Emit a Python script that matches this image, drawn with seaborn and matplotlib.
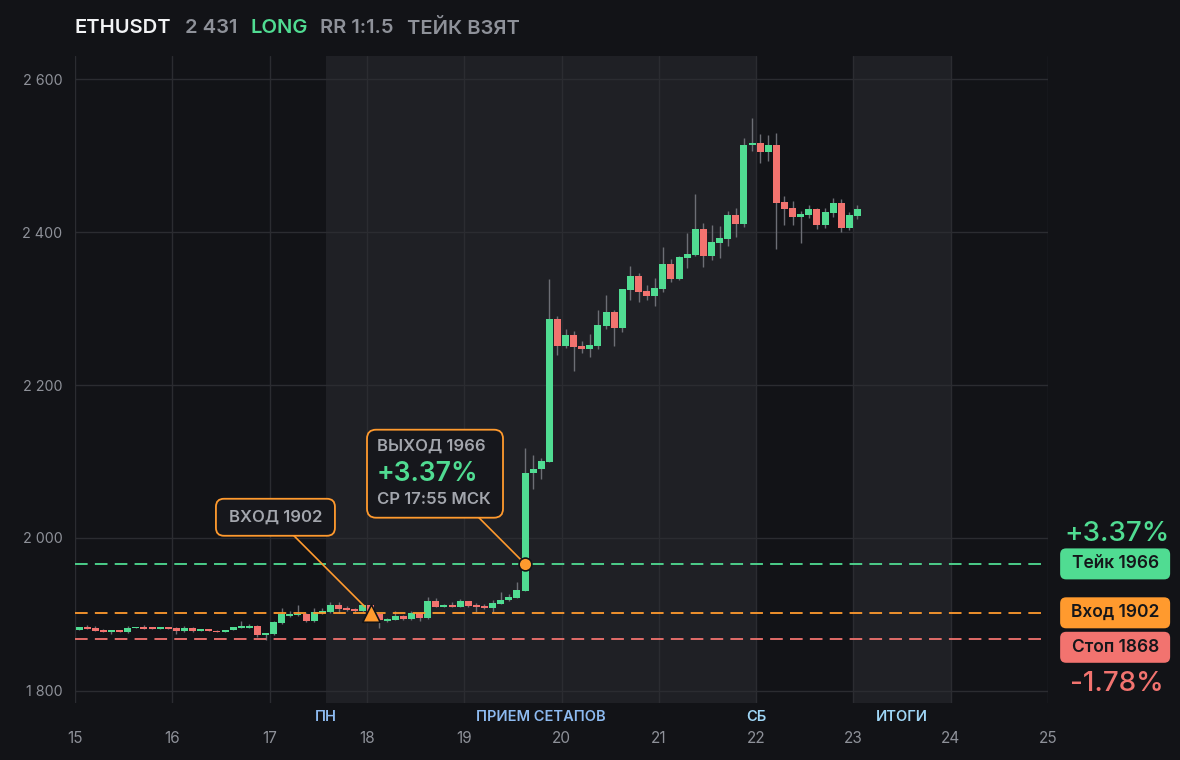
import numpy as np
import pandas as pd
import matplotlib
matplotlib.use("Agg")
import matplotlib.pyplot as plt
import seaborn as sns
from matplotlib.patches import FancyBboxPatch
from matplotlib.transforms import IdentityTransform, blended_transform_factory

# ETHUSDT 2h candles, first candle starts on day 15 at 00:00
opens = [1880.0, 1883.4, 1882.0, 1879.4, 1877.2, 1879.4, 1876.8, 1882.1, 1883.4, 1883.4,
         1881.2, 1883.4, 1882.1, 1878.1, 1882.1, 1878.1, 1880.5, 1878.1, 1876.8, 1879.4,
         1882.1, 1882.1, 1884.7, 1872.8, 1874.1, 1888.7, 1897.7, 1899.0, 1900.4, 1891.2,
         1901.7, 1903.0, 1912.2, 1908.2, 1907.0, 1904.3, 1912.2, 1900.4, 1891.2, 1892.4,
         1897.7, 1893.7, 1901.7, 1895.0, 1917.4, 1909.5, 1912.2, 1909.5, 1917.4, 1912.2,
         1910.8, 1908.2, 1913.5, 1918.7, 1921.4, 1930.5, 2085.0, 2090.0, 2099.0, 2286.4,
         2251.0, 2265.5, 2251.0, 2247.0, 2251.0, 2277.0, 2295.5, 2274.6, 2324.0, 2342.6,
         2323.0, 2316.4, 2325.6, 2358.3, 2338.7, 2366.0, 2370.0, 2404.0, 2368.8, 2385.8,
         2391.0, 2422.4, 2410.6, 2514.0, 2516.6, 2504.8, 2514.0, 2439.4, 2431.6, 2420.0,
         2422.0, 2430.0, 2409.0, 2425.0, 2438.0, 2405.3, 2421.0]
closes = [1883.4, 1881.2, 1878.5, 1877.2, 1879.4, 1876.8, 1882.1, 1883.4, 1881.2, 1881.2,
          1883.4, 1881.2, 1878.1, 1882.1, 1878.1, 1880.5, 1878.1, 1876.8, 1879.0, 1883.4,
          1884.7, 1884.7, 1872.8, 1875.5, 1890.0, 1900.4, 1900.4, 1900.4, 1891.2, 1903.0,
          1904.3, 1912.2, 1907.0, 1905.6, 1904.3, 1912.2, 1903.0, 1892.4, 1893.7, 1897.7,
          1893.7, 1901.7, 1895.0, 1917.4, 1909.5, 1912.2, 1909.5, 1917.4, 1910.8, 1909.5,
          1908.2, 1914.4, 1918.7, 1922.6, 1931.8, 2085.0, 2090.0, 2100.6, 2286.4, 2251.0,
          2265.5, 2249.7, 2247.0, 2252.0, 2278.5, 2295.5, 2274.6, 2325.6, 2342.6, 2321.7,
          2316.4, 2327.0, 2358.3, 2338.7, 2367.5, 2371.0, 2404.0, 2368.8, 2387.0, 2392.0,
          2422.4, 2410.6, 2514.0, 2516.6, 2504.8, 2514.0, 2438.0, 2430.0, 2419.8, 2423.7,
          2430.0, 2409.0, 2426.0, 2438.0, 2405.3, 2422.4, 2430.0]
highs = [1884.0, 1885.7, 1884.5, 1881.0, 1880.0, 1880.0, 1884.7, 1884.0, 1886.0, 1884.0,
         1884.0, 1884.0, 1883.0, 1884.7, 1884.0, 1881.0, 1881.0, 1879.0, 1880.0, 1884.0,
         1891.0, 1887.0, 1885.6, 1876.0, 1891.0, 1908.0, 1904.3, 1912.0, 1902.0, 1908.0,
         1908.0, 1916.0, 1916.0, 1911.0, 1908.5, 1914.0, 1913.0, 1901.0, 1895.0, 1904.3,
         1898.5, 1904.3, 1902.5, 1922.6, 1921.4, 1913.0, 1916.0, 1920.0, 1918.0, 1914.4,
         1913.0, 1918.7, 1929.0, 1926.6, 1942.0, 2117.6, 2108.0, 2104.5, 2338.7, 2290.0,
         2273.0, 2270.6, 2258.0, 2266.7, 2298.0, 2317.8, 2298.0, 2326.0, 2356.0, 2346.5,
         2331.0, 2340.0, 2381.0, 2365.0, 2369.0, 2398.9, 2450.0, 2412.0, 2410.0, 2408.0,
         2427.7, 2431.6, 2523.0, 2549.0, 2528.0, 2527.0, 2529.7, 2447.0, 2441.0, 2427.7,
         2436.0, 2431.0, 2431.0, 2444.6, 2443.0, 2427.0, 2436.0]
lows = [1879.5, 1880.8, 1878.0, 1876.8, 1874.5, 1876.5, 1876.0, 1881.5, 1881.0, 1881.0,
        1881.0, 1880.8, 1874.1, 1877.5, 1877.5, 1877.8, 1877.8, 1876.5, 1876.5, 1879.0,
        1882.0, 1881.5, 1870.0, 1866.9, 1873.5, 1887.5, 1897.0, 1898.0, 1890.0, 1890.5,
        1900.0, 1902.0, 1901.7, 1905.0, 1903.5, 1903.0, 1900.0, 1882.0, 1890.5, 1892.0,
        1892.5, 1893.0, 1891.2, 1894.5, 1909.0, 1909.0, 1909.0, 1909.0, 1910.0, 1902.5,
        1907.5, 1903.5, 1913.0, 1918.0, 1921.0, 1930.0, 2064.0, 2077.0, 2099.0, 2239.0,
        2248.0, 2218.0, 2242.0, 2236.6, 2247.0, 2273.0, 2251.0, 2269.0, 2311.0, 2308.6,
        2311.0, 2303.0, 2322.0, 2335.0, 2337.0, 2353.0, 2368.8, 2354.0, 2363.0, 2366.0,
        2382.0, 2393.6, 2406.7, 2506.0, 2490.5, 2493.0, 2378.0, 2409.0, 2409.0, 2385.8,
        2419.0, 2404.0, 2406.0, 2419.8, 2400.0, 2402.6, 2417.0]

start_day = 15
candle_hours = 2

entry_price = 1902
take_price = 1966
stop_price = 1868
entry_bar = 36
exit_bar = 55

day_ticks = list(range(15, 26))
price_ticks = [1800, 2000, 2200, 2400, 2600]
bands = [(17.583, 22.0), (23.0, 24.0)]
band_labels = ["ПН", "ПРИЕМ СЕТАПОВ", "СБ", "ИТОГИ"]
band_label_x = [17.583, 19.79, 22.0, 23.5]

title_parts = ["ETHUSDT", "2 431", "LONG", "RR 1:1.5", "ТЕЙК ВЗЯТ"]

# colours
BG = "#121317"
BAND = "#1f2025"
GRID = "#2b2c31"
GREEN = "#50dc92"
RED = "#f2736f"
ORANGE = "#ff9a2e"
GREY = "#8e9199"
TXT = "#a3a6ad"
WICK = "#6c6e75"
BOXBG = "#16171c"

df = pd.DataFrame({"open": opens, "high": highs, "low": lows, "close": closes})
df["t"] = start_day + (np.arange(len(df)) + 0.5) * candle_hours / 24
df["up"] = df["close"] >= df["open"]
df["color"] = np.where(df["up"], GREEN, RED)
body = (df["close"] - df["open"]).abs().clip(lower=1.6)
bottom = df[["open", "close"]].min(axis=1)

sns.set_theme(style="dark", rc={"figure.facecolor": BG, "axes.facecolor": BG,
                                "savefig.facecolor": BG, "axes.edgecolor": BG})
plt.rcParams["font.family"] = ["Inter", "DejaVu Sans"]

fig = plt.figure(figsize=(11.8, 7.6), dpi=100)
ax = fig.add_axes([75 / 1180, 57 / 760, 973 / 1180, 647 / 760])
ax.set_xlim(15, 25)
ax.set_ylim(1784, 2630.5)

for a, b in bands:
    ax.axvspan(a, b, color=BAND, lw=0, zorder=0)

ax.set_xticks(day_ticks)
ax.set_xticklabels([str(d) for d in day_ticks])
ax.set_yticks(price_ticks)
ax.set_yticklabels([f"{p:,}".replace(",", " ") for p in price_ticks])
ax.grid(True, color=GRID, lw=1, zorder=0.5)
ax.set_axisbelow(True)
for s in ax.spines.values():
    s.set_visible(False)
ax.tick_params(axis="x", length=0, colors=GREY, labelsize=11, pad=20)
ax.tick_params(axis="y", length=0, colors=GREY, labelsize=10.3, pad=9)
ax.set_xlabel("")
ax.set_ylabel("")

# candles
ax.vlines(df["t"], df["low"], df["high"], color=WICK, lw=1, zorder=2)
ax.bar(df["t"], body, bottom=bottom, width=0.072, color=df["color"], lw=0, zorder=3)

# levels
for price, col in [(take_price, GREEN), (entry_price, ORANGE), (stop_price, RED)]:
    ax.axhline(price, color=col, lw=1.3, ls=(0, (7, 4)), zorder=4)

# entry / exit markers
t_entry = df["t"][entry_bar]
t_exit = df["t"][exit_bar]
sns.scatterplot(x=[t_entry], y=[entry_price], marker="^", s=160, color=ORANGE,
                edgecolor=BG, linewidth=1.2, zorder=6, ax=ax, legend=False)
sns.scatterplot(x=[t_exit], y=[take_price], marker="o", s=85, color=ORANGE,
                edgecolor=BG, linewidth=1.2, zorder=6, ax=ax, legend=False)

# band captions under the plot
btrans = blended_transform_factory(ax.transData, ax.transAxes)
for lab, x in zip(band_labels, band_label_x):
    col = "#8dbaf0" if lab in ("ПН", "ПРИЕМ СЕТАПОВ") else "#9fd6f6"
    ax.text(x, -0.0215, lab, transform=btrans, ha="center", va="center",
            fontsize=10.5, fontweight="semibold", color=col)


def pill(cx, cy, w, h, fc, ec=None, lw=0, r=7, z=10):
    p = FancyBboxPatch((cx - w / 2, cy - h / 2), w, h,
                       boxstyle=f"round,pad=0,rounding_size={r}",
                       transform=IdentityTransform(), fc=fc,
                       ec=ec if ec else fc, lw=lw, zorder=z)
    fig.add_artist(p)


def ftext(x, y, s, **kw):
    fig.text(x, y, s, transform=IdentityTransform(), zorder=11, **kw)


# callout boxes
entry_box = (17.06, 2027)
exit_box = (18.70, 2084)
ax.annotate("", xy=(t_entry, entry_price), xytext=entry_box,
            arrowprops=dict(arrowstyle="-", color=ORANGE, lw=1.2, shrinkA=0, shrinkB=6),
            zorder=5)
ax.annotate("", xy=(t_exit, take_price), xytext=exit_box,
            arrowprops=dict(arrowstyle="-", color=ORANGE, lw=1.2, shrinkA=0, shrinkB=5),
            zorder=5)

ex, ey = ax.transData.transform(entry_box)
pill(ex, ey, 119, 37, BOXBG, ORANGE, 1.3, r=8)
ftext(ex, ey, "ВХОД 1902", ha="center", va="center", fontsize=12,
      fontweight="semibold", color=TXT)

xx, xy = ax.transData.transform(exit_box)
pill(xx, xy, 136, 88, BOXBG, ORANGE, 1.3, r=9)
ftext(xx - 58, xy + 28, "ВЫХОД 1966", ha="left", va="center", fontsize=12,
      fontweight="semibold", color=TXT)
ftext(xx - 58, xy + 0, "+3.37%", ha="left", va="center", fontsize=19,
      fontweight="semibold", color=GREEN)
ftext(xx - 58, xy - 26, "СР 17:55 МСК", ha="left", va="center", fontsize=12,
      fontweight="semibold", color=TXT)

# right-hand price tags
rx = ax.transAxes.transform((1.069, 0))[0]
ty = ax.transData.transform((0, take_price))[1]
ey2 = ax.transData.transform((0, entry_price))[1]
sy = ax.transData.transform((0, stop_price))[1] - 8.5
for y, lab, col in [(ty, "Тейк 1966", GREEN), (ey2, "Вход 1902", ORANGE), (sy, "Стоп 1868", RED)]:
    pill(rx, y, 110, 31, col, r=6)
    ftext(rx, y, lab, ha="center", va="center", fontsize=12.5,
          fontweight="semibold", color="#15161a")
ftext(rx + 2, ty + 29.5, "+3.37%", ha="center", va="center", fontsize=20,
      fontweight="medium", color=GREEN)
ftext(rx + 2, sy - 37, "-1.78%", ha="center", va="center", fontsize=20,
      fontweight="medium", color=RED)

# title row
title_colors = ["#f2f3f5", GREY, GREEN, GREY, GREY]
renderer = fig.canvas.get_renderer()
x_px = 75
for part, col in zip(title_parts, title_colors):
    t = fig.text(x_px, 760 - 28, part, transform=IdentityTransform(), ha="left",
                 va="center", fontsize=14.5, fontweight="semibold", color=col)
    x_px = t.get_window_extent(renderer).x1 + 13

fig.savefig("out.png", dpi=100, facecolor=BG)
